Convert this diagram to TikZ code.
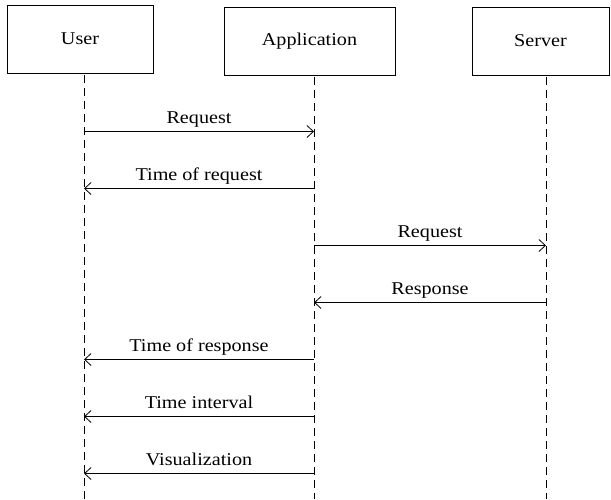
\documentclass[tikz,border=0pt]{standalone}
\usepackage{fontspec}
\setmainfont[FakeStretch=1.12]{Liberation Serif}
\usetikzlibrary{arrows.meta}
\begin{document}
\begin{tikzpicture}[x=1pt,y=-1pt,
  actor/.style={draw,line width=0.9pt,minimum width=#1,minimum height=68pt,inner sep=0pt,
    font=\fontsize{18}{22}\selectfont},
  lifeline/.style={line width=0.8pt,dash pattern=on 8pt off 5pt},
  msg/.style={line width=0.8pt,-{Straight Barb[length=6.5pt,width=12pt,line width=0.8pt]}},
  lbl/.style={font=\fontsize{18}{22}\selectfont,anchor=base,inner sep=0pt,yshift=8.5pt}]
\useasboundingbox (0,0) rectangle (611,499);
% participants
\node[actor=146pt] (user) at (80,39) {User};
\node[actor=171pt] (app) at (309.5,41) {Application};
\node[actor=137pt] (srv) at (540.5,41) {Server};
% lifelines
\coordinate (uT) at (84,75);   \coordinate (uB) at (84,499);
\coordinate (aT) at (314,77);  \coordinate (aB) at (314,499);
\coordinate (sT) at (546,77);  \coordinate (sB) at (546,499);
\draw[lifeline] (uT) -- (uB);
\draw[lifeline] (aT) -- (aB);
\draw[lifeline] (sT) -- (sB);
% messages
\draw[msg] (uT |- 0,131.5) -- node[lbl]{Request} (aT |- 0,131.5);
\draw[msg] (aT |- 0,188.5) -- node[lbl]{Time of request} (uT |- 0,188.5);
\draw[msg] (aT |- 0,245.5) -- node[lbl]{Request} (sT |- 0,245.5);
\draw[msg] (sT |- 0,302.5) -- node[lbl]{Response} (aT |- 0,302.5);
\draw[msg] (aT |- 0,359.5) -- node[lbl]{Time of response} (uT |- 0,359.5);
\draw[msg] (aT |- 0,416.5) -- node[lbl]{Time interval} (uT |- 0,416.5);
\draw[msg] (aT |- 0,473.5) -- node[lbl]{Visualization} (uT |- 0,473.5);
\end{tikzpicture}
\end{document}
